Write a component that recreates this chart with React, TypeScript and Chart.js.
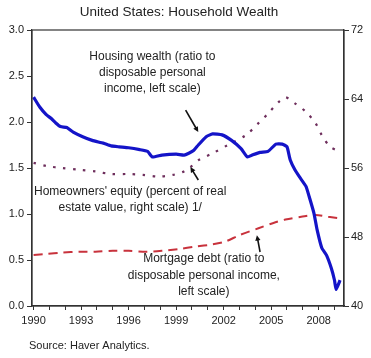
import React, { useEffect, useRef } from "react";
import { Chart, registerables } from "chart.js";

Chart.register(...registerables);

const titleText = "United States: Household Wealth";
const sourceText = "Source: Haver Analytics.";

const xTickYears = [1990, 1991, 1992, 1993, 1994, 1995, 1996, 1997, 1998, 1999, 2000, 2001, 2002, 2003, 2004, 2005, 2006, 2007, 2008, 2009];
const leftTicks = [0, 0.5, 1.0, 1.5, 2.0, 2.5, 3.0];
const rightTicks = [40, 48, 56, 64, 72];

const housingYears = [1990.0, 1990.4, 1990.8, 1991.1, 1991.4, 1991.7, 1992.1, 1992.5, 1993.1, 1993.7, 1994.4, 1994.9, 1995.4, 1996.0, 1996.7, 1997.2, 1997.5, 1998.1, 1999.0, 1999.5, 1999.8, 2000.1, 2000.4, 2000.9, 2001.3, 2001.9, 2002.5, 2003.1, 2003.5, 2003.8, 2004.3, 2004.8, 2005.3, 2005.7, 2006.0, 2006.2, 2006.5, 2006.8, 2007.2, 2007.4, 2007.7, 2007.9, 2008.2, 2008.5, 2008.8, 2009.0, 2009.1, 2009.35];
const housingValues = [2.27, 2.16, 2.08, 2.04, 1.99, 1.95, 1.94, 1.89, 1.84, 1.80, 1.77, 1.74, 1.73, 1.72, 1.70, 1.68, 1.62, 1.64, 1.65, 1.64, 1.66, 1.69, 1.75, 1.84, 1.87, 1.86, 1.80, 1.71, 1.62, 1.64, 1.67, 1.68, 1.76, 1.76, 1.73, 1.59, 1.48, 1.40, 1.30, 1.19, 1.01, 0.83, 0.63, 0.55, 0.41, 0.28, 0.18, 0.28];

const mortgageYears = [1990.0, 1990.8, 1991.8, 1992.9, 1993.9, 1995.0, 1996.0, 1997.1, 1998.1, 1999.2, 2000.2, 2001.3, 2002.1, 2003.0, 2004.2, 2005.1, 2005.9, 2006.9, 2007.8, 2008.6, 2009.5];
const mortgageValues = [0.555, 0.565, 0.58, 0.59, 0.59, 0.60, 0.60, 0.59, 0.60, 0.62, 0.645, 0.67, 0.70, 0.77, 0.845, 0.90, 0.94, 0.97, 0.99, 0.97, 0.95];

const equityYears = [1990.0, 1990.9, 1991.8, 1992.9, 1993.9, 1994.9, 1996.0, 1996.9, 1997.9, 1998.8, 1999.5, 1999.9, 2000.4, 2001.3, 2002.3, 2003.4, 2004.2, 2004.8, 2005.5, 2005.9, 2006.5, 2007.2, 2007.8, 2008.2, 2008.7, 2009.2];
const equityValues = [56.6, 56.2, 56.0, 55.8, 55.6, 55.3, 55.3, 55.2, 55.0, 55.2, 55.6, 56.1, 56.9, 57.7, 58.7, 59.8, 61.2, 62.3, 63.7, 64.2, 63.5, 62.5, 61.2, 59.8, 58.5, 58.0];

const housingLabel = ["Housing wealth (ratio to", "disposable personal", "income, left scale)"];
const equityLabel = ["Homeowners' equity (percent of real", "estate value, right scale) 1/"];
const mortgageLabel = ["Mortgage debt (ratio to", "disposable personal income,", "left scale)"];

const FONT = '"Liberation Sans", Arial, Helvetica, sans-serif';
const TEXT = "#222222";

function pts(xs: number[], ys: number[]) {
  return xs.map((x, i) => ({ x, y: ys[i] }));
}

function arrow(ctx: CanvasRenderingContext2D, x1: number, y1: number, x2: number, y2: number) {
  const a = Math.atan2(y2 - y1, x2 - x1);
  const h = 6;
  ctx.beginPath();
  ctx.moveTo(x1, y1);
  ctx.lineTo(x2 - Math.cos(a) * 3, y2 - Math.sin(a) * 3);
  ctx.stroke();
  ctx.beginPath();
  ctx.moveTo(x2, y2);
  ctx.lineTo(x2 - h * Math.cos(a - 0.45), y2 - h * Math.sin(a - 0.45));
  ctx.lineTo(x2 - h * Math.cos(a + 0.45), y2 - h * Math.sin(a + 0.45));
  ctx.closePath();
  ctx.fill();
}

const decorPlugin = {
  id: "decor",
  afterDraw(chart: any) {
    const { ctx, chartArea, scales } = chart;
    const xs = scales.x;
    const yl = scales.yLeft;
    ctx.save();
    // frame
    ctx.strokeStyle = "#333333";
    ctx.lineWidth = 1.2;
    ctx.strokeRect(chartArea.left, chartArea.top, chartArea.right - chartArea.left, chartArea.bottom - chartArea.top);
    // title
    ctx.fillStyle = TEXT;
    ctx.textAlign = "center";
    ctx.textBaseline = "middle";
    ctx.font = `13.5px ${FONT}`;
    ctx.fillText(titleText, 179, 12);
    // source
    ctx.textAlign = "left";
    ctx.font = `11px ${FONT}`;
    ctx.fillText(sourceText, 29, 346);
    // annotations
    ctx.font = `12px ${FONT}`;
    ctx.textAlign = "center";
    const lines = (arr: string[], cx: number, y0: number, step: number) => {
      arr.forEach((s, i) => ctx.fillText(s, xs.getPixelForValue(cx), yl.getPixelForValue(y0) + i * step));
    };
    lines(housingLabel, 1997.5, 2.71, 16.2);
    lines(equityLabel, 1996.1, 1.24, 16.2);
    lines(mortgageLabel, 2000.75, 0.51, 16.5);
    ctx.strokeStyle = "#111111";
    ctx.fillStyle = "#111111";
    ctx.lineWidth = 1.6;
    const ar = (x1: number, y1: number, x2: number, y2: number) =>
      arrow(ctx, xs.getPixelForValue(x1), yl.getPixelForValue(y1), xs.getPixelForValue(x2), yl.getPixelForValue(y2));
    ar(1999.6, 2.13, 2000.4, 1.89);
    ar(2000.4, 1.37, 1999.9, 1.51);
    ar(2004.3, 0.587, 2004.1, 0.77);
    ctx.restore();
  },
};

export default function App() {
  const ref = useRef<HTMLCanvasElement | null>(null);
  useEffect(() => {
    if (!ref.current) return;
    const chart = new Chart(ref.current, {
      type: "line",
      data: {
        datasets: [
          {
            label: "Housing wealth",
            data: pts(housingYears, housingValues),
            yAxisID: "yLeft",
            borderColor: "#1414c8",
            borderWidth: 3.2,
            pointRadius: 0,
            tension: 0.15,
          },
          {
            label: "Mortgage debt",
            data: pts(mortgageYears, mortgageValues),
            yAxisID: "yLeft",
            borderColor: "#c8323c",
            borderWidth: 2,
            borderDash: [9, 6],
            pointRadius: 0,
            tension: 0.3,
          },
          {
            label: "Homeowners' equity",
            data: pts(equityYears, equityValues),
            yAxisID: "yRight",
            borderColor: "#6e2e5c",
            borderWidth: 2.2,
            borderDash: [2.5, 7.5],
            pointRadius: 0,
            tension: 0.3,
          },
        ],
      },
      options: {
        animation: false,
        responsive: false,
        maintainAspectRatio: false,
        layout: { padding: { top: 30, left: 0, right: 0, bottom: 0 } },
        plugins: { legend: { display: false }, tooltip: { enabled: false }, title: { display: false } },
        scales: {
          x: {
            type: "linear",
            min: 1989.9,
            max: 2009.6,
            afterBuildTicks: (s: any) => {
              s.ticks = xTickYears.map((v) => ({ value: v }));
            },
            afterFit: (s: any) => {
              s.height = 52;
            },
            border: { display: true, color: "#333333", width: 1.2 },
            grid: { drawOnChartArea: false, drawTicks: true, tickLength: 4, color: "#333333", lineWidth: 1 },
            ticks: {
              autoSkip: false,
              maxRotation: 0,
              padding: 4,
              color: TEXT,
              font: { family: FONT, size: 11 },
              callback: (v: any) => ((Math.round(v) - 1990) % 3 === 0 ? String(Math.round(v)) : ""),
            },
          },
          yLeft: {
            type: "linear",
            position: "left",
            min: 0,
            max: 3,
            afterBuildTicks: (s: any) => {
              s.ticks = leftTicks.map((v) => ({ value: v }));
            },
            afterFit: (s: any) => {
              s.width = 32;
            },
            border: { display: true, color: "#333333", width: 1.2 },
            grid: { drawOnChartArea: false, drawTicks: true, tickLength: 5, color: "#333333" },
            ticks: {
              padding: 3,
              color: TEXT,
              font: { family: FONT, size: 11 },
              callback: (v: any) => Number(v).toFixed(1),
            },
          },
          yRight: {
            type: "linear",
            position: "right",
            min: 40,
            max: 72,
            afterBuildTicks: (s: any) => {
              s.ticks = rightTicks.map((v) => ({ value: v }));
            },
            afterFit: (s: any) => {
              s.width = 27;
            },
            border: { display: true, color: "#333333", width: 1.2 },
            grid: { drawOnChartArea: false, drawTicks: true, tickLength: 5, color: "#333333" },
            ticks: {
              padding: 2,
              color: TEXT,
              font: { family: FONT, size: 11 },
            },
          },
        },
      },
      plugins: [decorPlugin],
    } as any);
    return () => chart.destroy();
  }, []);
  return (
    <div style={{ position: "absolute", left: 0, top: 0, width: 371, height: 358, background: "#ffffff" }}>
      <canvas ref={ref} width={371} height={358} style={{ display: "block", width: 371, height: 358 }} />
    </div>
  );
}
